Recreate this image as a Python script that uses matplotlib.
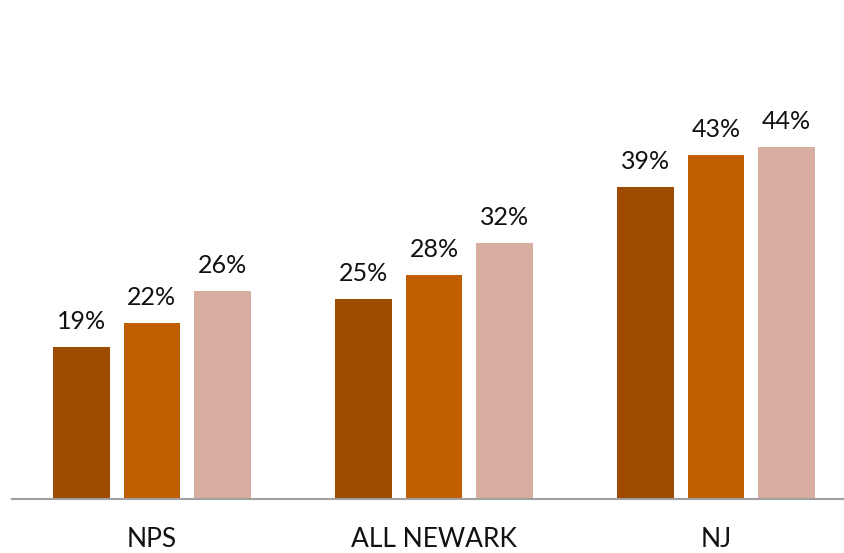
import matplotlib.pyplot as plt
import numpy as np

categories = ['NPS', 'ALL NEWARK', 'NJ']
series_1 = [19, 25, 39]
series_2 = [22, 28, 43]
series_3 = [26, 32, 44]

colors = ['#9E4A00', '#C05F00', '#D8AEA0']

plt.rcParams['font.family'] = ['Lato', 'DejaVu Sans']

fig = plt.figure(figsize=(8.45, 5.53), dpi=100)
W, H = 845, 553
ax = fig.add_axes([12 / W, 54 / H, (845 - 12) / W, 480 / H])

x = np.arange(len(categories))
width = 0.2
step = 0.25

for k, vals in enumerate([series_1, series_2, series_3]):
    pos = x + (k - 1) * step
    bars = ax.bar(pos, vals, width, color=colors[k])
    for b, v in zip(bars, vals):
        ax.annotate(f'{v}%', (b.get_x() + b.get_width() / 2, v),
                    xytext=(0, 13), textcoords='offset points',
                    ha='center', va='baseline', fontsize=18, color='#111111')

ax.set_xlim(-0.496, 2.457)
ax.set_ylim(0, 60)

for s in ['top', 'right', 'left']:
    ax.spines[s].set_visible(False)
ax.spines['bottom'].set_color('#A0A0A0')
ax.spines['bottom'].set_linewidth(1.5)

ax.set_yticks([])
ax.set_xticks(x)
ax.set_xticklabels(categories, fontsize=19, color='#111111')
ax.tick_params(axis='x', length=0, pad=20)

fig.savefig('out.png', dpi=100)
